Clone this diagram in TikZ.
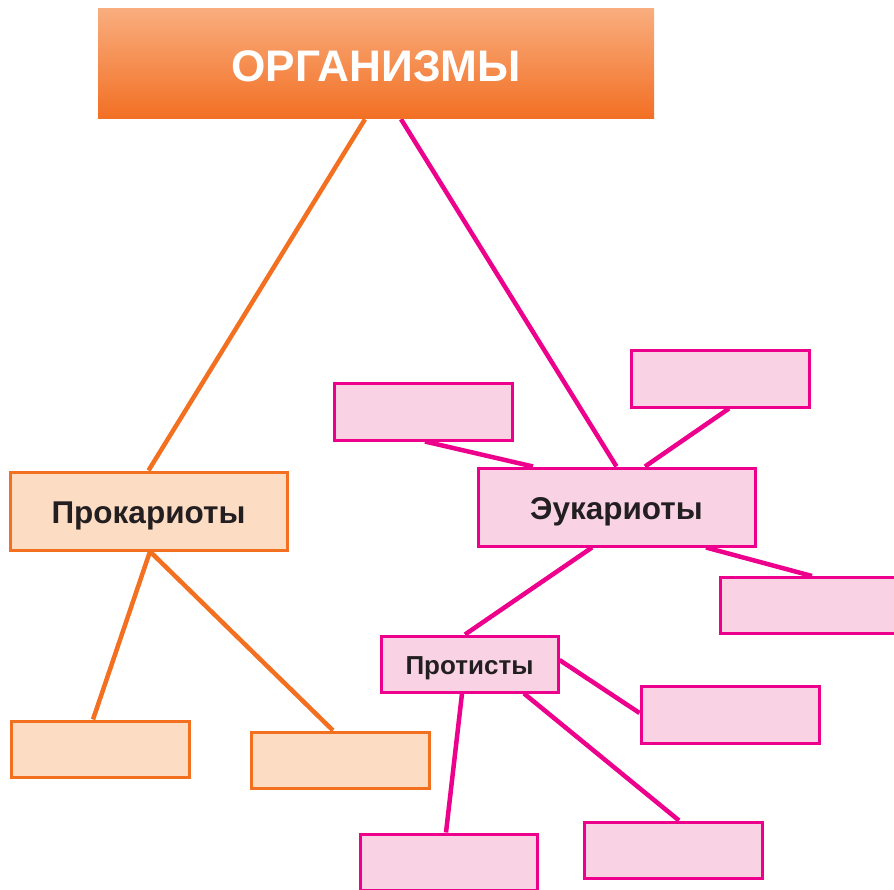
\documentclass[tikz,border=0pt]{standalone}
\usepackage{fontspec}
\setmainfont{Liberation Sans}
\usetikzlibrary{backgrounds}
\definecolor{orng}{HTML}{F37021}
\definecolor{orngfill}{HTML}{FDDCC4}
\definecolor{mag}{HTML}{EC008C}
\definecolor{pinkfill}{HTML}{F9D3E4}
\definecolor{txt}{HTML}{231F20}
\definecolor{gradtop}{HTML}{F9AD7E}
\definecolor{gradbot}{HTML}{F26F23}
\newcommand{\basedown}[2]{\raisebox{-#1}[0pt][0pt]{#2}}
\tikzset{
  obox/.style={draw=orng, fill=orngfill, line width=3pt, inner sep=0pt, minimum width=178pt, minimum height=56pt, font=\bfseries\color{txt}},
  pbox/.style={draw=mag, fill=pinkfill, line width=3pt, inner sep=0pt, minimum width=178pt, minimum height=56pt, font=\bfseries\color{txt}},
  oline/.style={draw=orng, line width=4.5pt},
  pline/.style={draw=mag, line width=4.5pt},
}
\begin{document}
\begin{tikzpicture}[x=1pt,y=-1pt]
\useasboundingbox (0,0) rectangle (894,890);
\clip (0,0) rectangle (894,890);
% title
\node[shading=axis, top color=gradtop, bottom color=gradbot, inner sep=0pt,
      minimum width=556pt, minimum height=110pt, font=\fontsize{44.2}{50}\selectfont\bfseries\color{white}]
  (top) at (376,64) {\basedown{17.5pt}{ОРГАНИЗМЫ}};
% orange branch
\node[obox, minimum width=277pt, minimum height=78pt, font=\fontsize{31.5}{36}\selectfont\bfseries\color{txt}] (prok) at (148.5,511) {\basedown{12pt}{Прокариоты}};
\node[obox] (o1) at (100,749) {};
\node[obox] (o2) at (340,760) {};
% pink branch
\node[pbox, minimum width=277pt, minimum height=78pt, font=\fontsize{31.5}{36}\selectfont\bfseries\color{txt}] (euk) at (616.5,507) {\basedown{12.5pt}{Эукариоты}};
\node[pbox] (p1) at (423,412) {};
\node[pbox] (p2) at (720,379) {};
\node[pbox] (p3) at (809,605.5) {};
\node[pbox, minimum width=177pt, minimum height=56pt, font=\fontsize{26}{30}\selectfont\bfseries\color{txt}] (prot) at (469.5,664) {\basedown{10.5pt}{Протисты}};
\node[pbox, minimum height=57pt] (p4) at (730,714.5) {};
\node[pbox] (p5) at (673,850) {};
\node[pbox, minimum width=177pt] (p6) at (448.5,862) {};
\begin{scope}[on background layer]
\draw[oline] ([xshift=-11pt]top.south) -- (prok.north);
\draw[oline] ([xshift=1.5pt]prok.south) -- ([xshift=-7pt]o1.north);
\draw[oline] ([xshift=1.5pt]prok.south) -- ([xshift=-7pt]o2.north);
\draw[pline] ([xshift=25pt]top.south) -- (euk.north);
\draw[pline] ([xshift=2pt]p1.south) -- ([xshift=-83.5pt]euk.north);
\draw[pline] ([xshift=9pt]p2.south) -- ([xshift=28.5pt]euk.north);
\draw[pline] ([xshift=89.5pt]euk.south) -- ([xshift=3pt]p3.north);
\draw[pline] ([xshift=-24.5pt]euk.south) -- ([xshift=-4.5pt]prot.north);
\draw[pline] ([yshift=4pt]prot.east) -- ([yshift=1.5pt]p4.west);
\draw[pline] ([xshift=-7.5pt]prot.south) -- ([xshift=-2.5pt]p6.north);
\draw[pline] ([xshift=54.5pt]prot.south) -- ([xshift=6pt]p5.north);
\end{scope}
\end{tikzpicture}
\end{document}
